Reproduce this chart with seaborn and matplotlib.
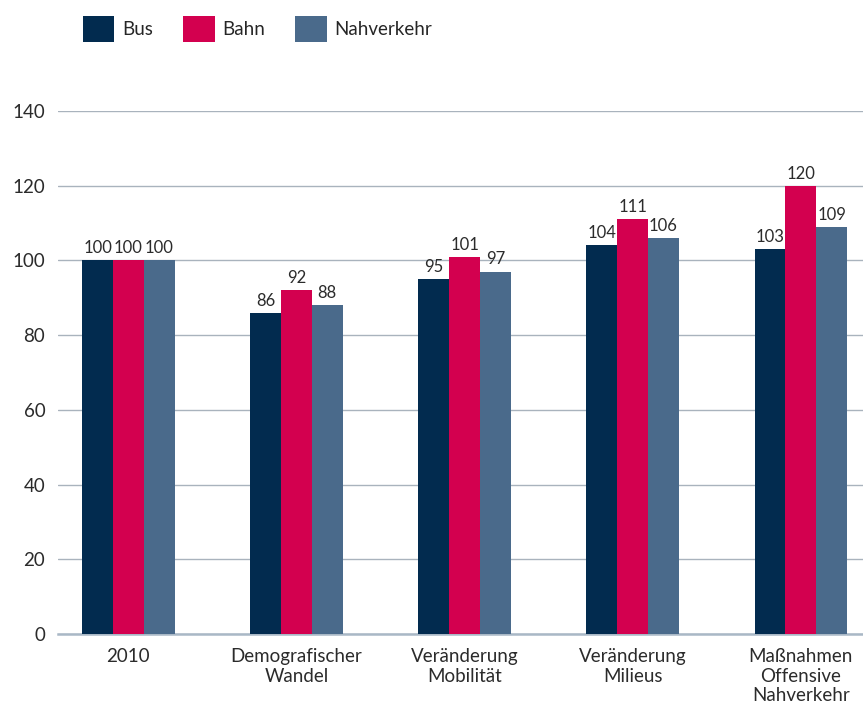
import matplotlib
matplotlib.use("Agg")
import matplotlib.pyplot as plt
import seaborn as sns
import pandas as pd
from matplotlib.patches import Patch

categories = ["2010", "Demografischer\nWandel", "Veränderung\nMobilität", "Veränderung\nMilieus", "Maßnahmen\nOffensive\nNahverkehr"]
series = ["Bus", "Bahn", "Nahverkehr"]
bus = [100, 86, 95, 104, 103]
bahn = [100, 92, 101, 111, 120]
nahverkehr = [100, 88, 97, 106, 109]
colors = ["#022b4f", "#d3004f", "#4a6a8b"]

rows = []
for s, vals in zip(series, [bus, bahn, nahverkehr]):
    for c, v in zip(categories, vals):
        rows.append({"Kategorie": c, "Serie": s, "Wert": v})
df = pd.DataFrame(rows)

sns.set_theme(style="white")
plt.rcParams["font.family"] = ["Lato", "DejaVu Sans"]

fig = plt.figure(figsize=(8.63, 7.11), dpi=100)
ax = fig.add_axes([0.067, 0.1083, 0.933, 0.7356])

sns.barplot(data=df, x="Kategorie", y="Wert", hue="Serie", order=categories,
            hue_order=series, palette=colors, width=0.55, saturation=1,
            linewidth=0, edgecolor="none",
            legend=False, ax=ax, zorder=3)

ax.set_ylim(0, 140)
ax.set_yticks(range(0, 141, 20))
ax.set_xlim(-0.42, 4.37)
ax.grid(axis="y", color="#a9b3bd", linewidth=1, zorder=0)
ax.set_axisbelow(True)
for side in ["top", "right", "left"]:
    ax.spines[side].set_visible(False)
ax.spines["bottom"].set_color("#a9b8c6")
ax.spines["bottom"].set_linewidth(1.8)
ax.tick_params(axis="both", length=0, labelsize=13.5, colors="#2b2b2b")
ax.tick_params(axis="y", pad=9)
ax.tick_params(axis="x", pad=10)
ax.set_xlabel("")
ax.set_ylabel("")

for cont in ax.containers:
    ax.bar_label(cont, fmt="%d", padding=3, fontsize=12, color="#2b2b2b")

handles = [Patch(facecolor=c, edgecolor="none") for c in colors]
fig.legend(handles, series, loc="upper left", bbox_to_anchor=(0.074, 1.004),
           ncol=3, frameon=False, fontsize=13.5, handlelength=1.7, handleheight=1.75,
           handletextpad=0.4, columnspacing=1.6, borderaxespad=0.6)

fig.savefig("out.png", dpi=100)
